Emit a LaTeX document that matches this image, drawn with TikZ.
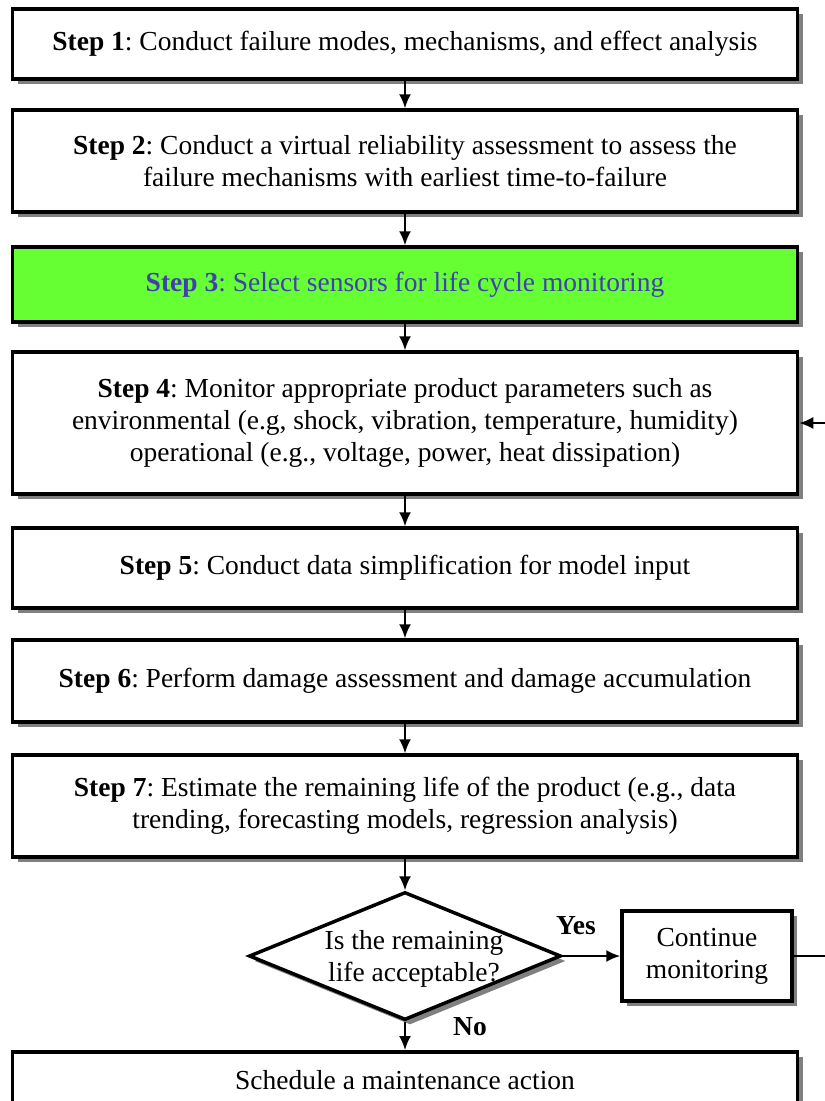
\documentclass[tikz,border=0pt]{standalone}
\usepackage{fontspec}
\setmainfont{Liberation Serif}
\usetikzlibrary{shapes.geometric,shadows,arrows.meta}
\definecolor{stepgreen}{RGB}{102,255,51}
\definecolor{stepblue}{RGB}{64,64,176}
\definecolor{shadowgray}{RGB}{128,128,128}
\frenchspacing
\begin{document}
\begin{tikzpicture}[x=1pt,y=-1pt,
  shade/.style={drop shadow={shadow xshift=5pt, shadow yshift=-5pt, fill=shadowgray, opacity=1}},
  txt/.style={font=\fontsize{27.5}{32}\selectfont, align=center},
  box/.style={draw, line width=3.5pt, fill=white, minimum width=785pt, inner sep=0pt, txt, shade},
  arr/.style={-{Latex[length=14pt,width=12pt]}, line width=2pt}]
\clip (0,0) rectangle (825,1101);
\fill[white] (0,0) rectangle (825,1101);

\node[box, minimum height=70pt] (B1) at (405,44) {\textbf{Step 1}: Conduct failure modes, mechanisms, and effect analysis};
\node[box, minimum height=102pt] (B2) at (405,161) {\textbf{Step 2}: Conduct a virtual reliability assessment to assess the\\failure mechanisms with earliest time-to-failure};
\node[box, minimum height=75pt, fill=stepgreen, text=stepblue] (B3) at (405,284.5) {\textbf{Step 3}: Select sensors for life cycle monitoring};
\node[box, minimum height=142pt] (B4) at (405,423) {\textbf{Step 4}: Monitor appropriate product parameters such as\\environmental (e.g, shock, vibration, temperature, humidity)\\operational (e.g., voltage, power, heat dissipation)};
\node[box, minimum height=80pt] (B5) at (405,568) {\textbf{Step 5}: Conduct data simplification for model input};
\node[box, minimum height=82pt] (B6) at (405,681) {\textbf{Step 6}: Perform damage assessment and damage accumulation};
\node[box, minimum height=102pt] (B7) at (405,806) {\textbf{Step 7}: Estimate the remaining life of the product (e.g., data\\trending, forecasting models, regression analysis)};

\node[diamond, draw, line width=3.5pt, fill=white, minimum width=312pt, minimum height=128pt, inner sep=0pt, shade] (D) at (405,956) {};
\node[txt] (Dt) at (414,959) {Is the remaining\\life acceptable?};

\node[draw, line width=3.5pt, fill=white, minimum width=170pt, minimum height=90pt, inner sep=0pt, txt, shade] (C) at (707,956) {Continue\\monitoring};

\node[box, minimum height=80pt, anchor=north] (S) at (405,1050) {};
\node[txt] (St) at (405,1080) {Schedule a maintenance action};

\node[txt, font=\fontsize{27.5}{32}\selectfont\bfseries] (yes) at (576,926) {Yes};
\node[txt, font=\fontsize{27.5}{32}\selectfont\bfseries] (no) at (470,1027) {No};

\coordinate (r4) at (826,423);
\coordinate (rc) at (826,956);

\draw[arr] (B1) -- (B2);
\draw[arr] (B2) -- (B3);
\draw[arr] (B3) -- (B4);
\draw[arr] (B4) -- (B5);
\draw[arr] (B5) -- (B6);
\draw[arr] (B6) -- (B7);
\draw[arr] (B7.south) -- (D.north);
\draw[arr] (D.east) -- (C.west);
\draw[arr] (D.south) -- (S.north);
\draw[line width=2pt] (C.east) -- (rc);
\draw[arr] (r4) -- (B4.east);
\end{tikzpicture}
\end{document}
